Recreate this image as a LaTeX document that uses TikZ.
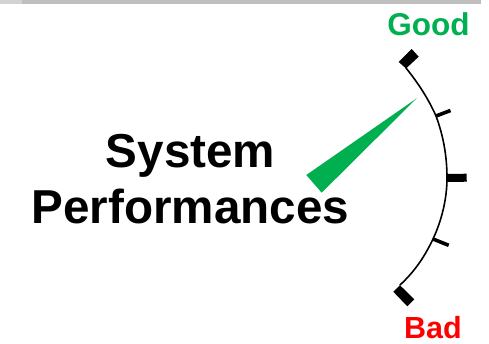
\documentclass[tikz,border=0pt]{standalone}
\usepackage{fontspec}
\setmainfont{Liberation Sans}
\definecolor{goodgreen}{HTML}{00B050}
\definecolor{badred}{HTML}{FF0000}
\definecolor{stripa}{HTML}{D2D2D2}
\definecolor{stripb}{HTML}{BEBEBE}
\tikzset{
  px/.style={x=1pt,y=-1pt},
  label/.style={font=\bfseries,inner sep=0pt,anchor=center,align=center},
  thintick/.style={line width=3.6pt,black},
  blocktick/.style={fill=black,draw=none}
}
\begin{document}
\begin{tikzpicture}[px]
\useasboundingbox (0,0) rectangle (489,343);
\fill[stripa] (0,0) rectangle (22,4);
\fill[stripb] (22,0) rectangle (481,4);
% dial arc
\coordinate (arcA) at (406,68);
\coordinate (arcB) at (436,116);
\coordinate (arcC) at (447,178);
\coordinate (arcD) at (433,239);
\coordinate (arcE) at (400,285);
\draw[line width=1.6pt,black,line cap=round] (arcA)
  .. controls (418,83) and (428,98) .. (arcB)
  .. controls (443,135) and (447,155) .. (arcC)
  .. controls (447,200) and (441,222) .. (arcD)
  .. controls (424,258) and (414,272) .. (arcE);
% ticks
\fill[blocktick] (398.7,62) -- (411.7,49) -- (418.7,56.7) -- (406,68.5) -- cycle;
\coordinate (t2) at (450.5,110.5);
\draw[thintick] (arcB) -- (t2);
\coordinate (t3) at (466.7,177.7);
\draw[line width=8pt,black] (arcC) -- (t3);
\coordinate (t4) at (448.7,245.3);
\draw[thintick] (arcD) -- (t4);
\fill[blocktick] (393.3,291.7) -- (400,285.3) -- (414.3,299.3) -- (407.3,306.3) -- cycle;
% needle
\fill[goodgreen] (416.7,98.3) -- (306.3,175) -- (321.7,192.7) -- cycle;
% labels
\node[label,text=goodgreen,font=\bfseries\fontsize{31.5}{34}\selectfont] (good) at (428.5,24) {Good};
\node[label,text=badred,font=\bfseries\fontsize{30.5}{34}\selectfont] (bad) at (433,327.5) {Bad};
\node[label,font=\bfseries\fontsize{47.6}{56}\selectfont] (sys) at (190.5,179) {System\\Performances};
\end{tikzpicture}
\end{document}
